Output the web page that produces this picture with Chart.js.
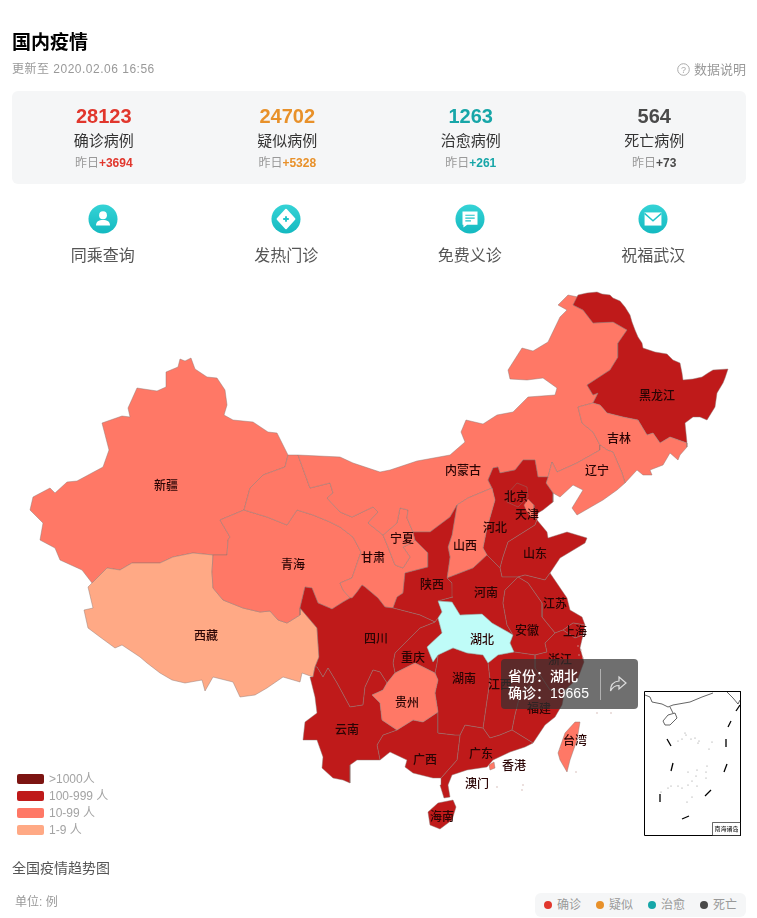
<!DOCTYPE html>
<html lang="zh">
<head>
<meta charset="utf-8">
<title>国内疫情</title>
<script src="https://cdn.jsdelivr.net/npm/chart.js@4"></script>
<style>
html, body { margin: 0; padding: 0; background: #fff; }
body { position: relative; width: 757px; height: 918px; overflow: hidden; font-family: "Liberation Sans", "Noto Sans CJK SC", sans-serif; }
#map { position: absolute; left: 0; top: 0; }
.abs { position: absolute; white-space: nowrap; }
#card { position: absolute; left: 12px; top: 91px; width: 734px; height: 93px; background: #f5f6f7; border-radius: 6px; }
.stat, .link { position: absolute; width: 183.5px; text-align: center; }
.stat { top: 0; }
.stat b { display: block; font-size: 20px; line-height: 24px; margin-top: 13px; }
.stat span { display: block; font-size: 15px; line-height: 20px; color: #333; margin-top: 3px; }
.stat i { display: block; font-style: normal; font-size: 12px; line-height: 16px; color: #999; margin-top: 4px; }
.stat i em { font-style: normal; font-weight: bold; }
.link { top: 204px; color: #555; font-size: 16px; line-height: 22px; }
.link svg { display: block; margin: 0 auto 11px; }
.band { position: absolute; left: 17px; width: 27px; height: 10px; border-radius: 2px; }
.bandText { position: absolute; left: 49px; font-size: 12px; line-height: 14px; color: #a3a3a3; white-space: nowrap; }
#tip { position: absolute; left: 501px; top: 659px; width: 137px; height: 50px; background: rgba(50,50,50,.7); border-radius: 4px; color: #fff; font-size: 14px; line-height: 17px; font-weight: 500; }
#tip div { position: absolute; left: 7px; white-space: nowrap; }
#tip u { position: absolute; left: 99px; top: 10px; width: 1px; height: 31px; background: rgba(255,255,255,.45); }
#tip svg { position: absolute; left: 108px; top: 16px; }
#pill { position: absolute; left: 535px; top: 893px; width: 211px; height: 24px; background: #f5f6f7; border-radius: 6px; }
#pill s { position: absolute; top: 8px; width: 8px; height: 8px; border-radius: 50%; }
#pill span { position: absolute; top: 4px; font-size: 12px; line-height: 16px; color: #999; }
</style>
</head>
<body>
<canvas id="map" width="757" height="918"></canvas>

<div class="abs" style="left:12px;top:30px;font-size:19px;line-height:25px;font-weight:bold;color:#000">国内疫情</div>
<div class="abs" style="left:12px;top:61px;font-size:12px;line-height:16px;color:#999;letter-spacing:.5px">更新至 2020.02.06 16:56</div>
<svg class="abs" style="left:677px;top:63px" width="13" height="13"><circle cx="6.5" cy="6.5" r="5.8" fill="none" stroke="#aaa"/><text x="6.5" y="10" text-anchor="middle" font-size="9" fill="#aaa">?</text></svg>
<div class="abs" style="left:694px;top:61px;font-size:13px;line-height:17px;color:#999">数据说明</div>
<div id="card"></div>
<div id="links"></div>
<div id="bands"></div>
<div class="abs" style="left:12px;top:859px;font-size:14px;line-height:18px;color:#555">全国疫情趋势图</div>
<div class="abs" style="left:15px;top:894px;font-size:12px;line-height:16px;color:#999">单位: 例</div>
<div id="pill"></div>
<div id="tip"></div>

<script>
// numeros de la cabecera
const statNames = ['确诊病例', '疑似病例', '治愈病例', '死亡病例'];
const statValues = [28123, 24702, 1263, 564];
const statDeltas = [3694, 5328, 261, 73];
const statColors = ['#e1372d', '#e8912a', '#17a6a8', '#4a4a4a'];
const linkNames = ['同乘查询', '发热门诊', '免费义诊', '祝福武汉'];

const bandNames = ['>1000人', '100-999 人', '10-99 人', '1-9 人'];
const bandColors = ['#7c1411', '#bf1a1a', '#ff7866', '#ffa985'];
const hoverColor = '#bffcf8';
const trendNames = ['确诊', '疑似', '治愈', '死亡'];

// contornos de cada provincia, en unidades del mapa
const xinjiang = [[180,359],[185,361],[191,358],[195,369],[207,377],[217,378],[225,390],[227,405],[224,415],[233,420],[253,422],[268,432],[277,433],[288,455],[285,467],[263,475],[250,488],[244,510],[220,520],[230,537],[228,540],[227,555],[213,555],[193,553],[173,557],[160,563],[132,563],[120,570],[107,568],[92,583],[82,570],[60,560],[55,548],[40,540],[43,523],[30,510],[33,497],[50,488],[55,493],[67,482],[77,481],[103,467],[109,450],[102,423],[122,416],[130,417],[128,408],[137,388],[157,391],[166,387],[166,372],[178,367]];
const xizang = [[92,583],[107,568],[120,570],[132,563],[160,563],[173,557],[193,553],[213,555],[212,572],[213,588],[223,600],[243,608],[260,612],[270,611],[278,620],[287,623],[300,615],[300,608],[317,628],[319,657],[315,667],[313,677],[302,673],[300,682],[283,677],[267,688],[255,695],[240,697],[233,682],[213,677],[205,691],[202,680],[185,683],[172,680],[160,673],[147,663],[140,657],[122,645],[115,648],[100,637],[88,628],[84,610],[93,608],[88,587]];
const qinghai = [[220,520],[244,510],[267,517],[287,525],[297,510],[313,515],[330,522],[340,527],[353,537],[361,552],[352,578],[340,583],[343,590],[350,598],[343,602],[332,609],[318,603],[312,588],[305,587],[300,608],[300,615],[287,623],[278,620],[270,611],[260,612],[243,608],[223,600],[213,588],[212,572],[213,555],[227,555],[228,540],[230,537]];
const gansu = [[288,455],[298,455],[310,488],[330,483],[333,493],[327,498],[340,512],[352,517],[373,507],[378,512],[368,523],[383,535],[388,547],[395,565],[403,568],[410,557],[403,547],[412,543],[415,540],[428,553],[428,567],[405,573],[403,593],[397,597],[393,608],[385,607],[378,598],[365,587],[362,585],[357,592],[352,598],[350,598],[343,590],[340,583],[352,578],[361,552],[353,537],[340,527],[330,522],[313,515],[297,510],[287,525],[267,517],[244,510],[250,488],[263,475],[285,467]];
const ningxia = [[400,508],[408,510],[407,518],[413,532],[415,540],[412,543],[403,547],[410,557],[403,568],[395,565],[388,547],[383,535],[397,523]];
const neimenggu = [[298,455],[340,457],[353,463],[380,472],[390,470],[417,461],[450,455],[465,442],[461,432],[466,420],[483,424],[497,415],[513,412],[528,397],[555,395],[557,388],[543,378],[527,380],[510,379],[508,370],[522,348],[533,351],[548,342],[560,317],[567,310],[558,305],[568,295],[578,297],[573,305],[583,310],[593,323],[613,322],[627,330],[618,343],[618,357],[610,370],[587,385],[593,395],[598,393],[593,403],[578,407],[582,423],[593,432],[600,445],[600,450],[577,463],[557,472],[552,462],[548,477],[538,477],[535,460],[523,460],[515,470],[500,473],[498,467],[493,468],[488,480],[492,488],[468,498],[457,505],[450,517],[430,532],[413,532],[407,518],[408,510],[400,508],[397,523],[383,535],[368,523],[378,512],[373,507],[352,517],[340,512],[327,498],[333,493],[330,483],[310,488]];
const heilongjiang = [[578,295],[587,293],[597,292],[602,294],[610,295],[613,298],[620,301],[625,307],[630,315],[632,322],[635,330],[638,337],[642,343],[643,348],[655,352],[667,354],[673,360],[680,363],[682,373],[683,380],[693,379],[702,377],[708,373],[713,370],[728,369],[725,378],[723,383],[717,393],[715,407],[707,420],[700,417],[693,417],[685,423],[687,443],[670,437],[660,443],[653,433],[647,435],[638,420],[623,417],[607,413],[600,405],[593,403],[598,393],[593,395],[587,385],[610,370],[618,357],[618,343],[627,330],[613,322],[593,323],[583,310],[573,305]];
const jilin = [[593,403],[600,405],[607,413],[623,417],[638,420],[647,435],[653,433],[660,443],[670,437],[687,443],[687,447],[680,455],[678,460],[670,453],[663,465],[650,470],[652,475],[643,475],[637,470],[625,483],[622,473],[613,452],[607,450],[600,445],[593,432],[582,423],[578,407]];
const liaoning = [[600,450],[600,445],[607,450],[613,452],[622,473],[625,483],[617,490],[603,500],[577,515],[572,508],[583,490],[573,485],[560,497],[553,493],[546,483],[548,477],[552,462],[557,472],[577,463]];
const hebei = [[488,480],[493,468],[498,467],[500,473],[515,470],[523,460],[535,460],[538,477],[548,477],[546,483],[553,493],[553,502],[543,510],[538,513],[537,520],[535,525],[508,542],[503,557],[500,568],[487,555],[483,548],[487,528],[495,500],[492,488]];
const beijing = [[517,483],[527,487],[528,497],[518,507],[507,502],[508,493]];
const tianjin = [[528,499],[534,505],[534,513],[537,519],[530,516],[526,510],[524,505]];
const shandong = [[535,525],[537,520],[547,532],[548,538],[567,532],[587,538],[585,543],[560,558],[550,573],[545,580],[525,575],[518,577],[502,577],[500,568],[503,557],[508,542]];
const shanxi = [[457,505],[468,498],[492,488],[495,500],[487,528],[483,548],[487,555],[473,568],[447,578],[450,557],[448,547],[452,535]];
const shaanxi = [[457,505],[452,535],[448,547],[450,557],[447,578],[452,583],[453,597],[438,601],[442,612],[438,618],[435,622],[420,615],[393,608],[397,597],[403,593],[405,573],[428,567],[428,553],[415,540],[413,532],[430,532],[450,517]];
const henan = [[447,578],[473,568],[487,555],[500,568],[502,577],[518,577],[505,590],[503,603],[507,625],[513,635],[508,632],[492,623],[482,614],[460,615],[452,602],[438,601],[453,597],[452,583]];
const jiangsu = [[518,577],[525,575],[545,580],[550,573],[567,598],[570,610],[582,617],[585,625],[573,623],[563,630],[555,633],[542,617],[542,603],[528,583]];
const anhui = [[518,577],[528,583],[542,603],[542,617],[555,633],[545,643],[547,652],[535,655],[514,652],[510,643],[513,635],[507,625],[503,603],[505,590]];
const shanghai = [[573,623],[585,625],[583,635],[575,638],[563,630]];
const zhejiang = [[555,633],[563,630],[575,638],[583,635],[580,648],[584,662],[578,678],[565,690],[550,690],[540,675],[535,668],[535,655],[547,652],[545,643]];
const jiangxi = [[488,663],[498,655],[514,652],[535,655],[535,668],[540,675],[530,685],[520,695],[515,715],[512,730],[500,735],[490,738],[483,728],[487,700],[490,680]];
const fujian = [[540,675],[550,690],[565,690],[562,705],[555,717],[545,725],[533,743],[512,730],[515,715],[520,695],[530,685]];
const guangdong = [[460,735],[465,725],[483,728],[490,738],[500,735],[512,730],[533,743],[525,747],[510,752],[493,760],[487,767],[467,770],[452,775],[448,785],[450,797],[444,798],[440,785],[441,778],[457,760]];
const guangxi = [[397,730],[413,720],[423,722],[438,712],[438,733],[455,735],[460,735],[457,760],[441,778],[433,778],[413,773],[405,767],[407,760],[390,752],[380,760],[377,745],[383,735]];
const hunan = [[438,655],[453,648],[467,653],[483,655],[488,663],[490,680],[487,700],[483,728],[465,725],[460,735],[455,735],[438,733],[438,712],[435,693],[438,680],[435,673],[437,663]];
const chongqing = [[435,622],[438,618],[442,633],[427,647],[433,662],[438,655],[437,663],[435,673],[425,668],[415,663],[395,673],[393,663],[395,653],[420,628]];
const sichuan = [[300,608],[305,587],[312,588],[318,603],[332,609],[343,602],[350,598],[352,598],[357,592],[362,585],[365,587],[378,598],[385,607],[393,608],[420,615],[435,622],[420,628],[395,653],[393,663],[395,673],[387,683],[380,672],[373,670],[365,687],[363,705],[350,707],[337,683],[328,668],[323,677],[317,667],[315,667],[319,657],[317,628]];
const yunnan = [[315,667],[317,667],[323,677],[328,668],[337,683],[350,707],[363,705],[365,687],[373,670],[380,672],[387,683],[383,690],[372,695],[380,703],[382,720],[397,730],[383,735],[377,745],[380,760],[357,760],[350,765],[350,783],[343,780],[333,778],[322,768],[323,757],[317,740],[303,740],[305,722],[317,713],[315,697],[310,677],[313,677]];
const guizhou = [[395,673],[415,663],[425,668],[435,673],[438,680],[435,693],[438,712],[423,722],[413,720],[397,730],[382,720],[380,703],[372,695],[383,690],[387,683]];
const hainan = [[428,812],[438,803],[453,800],[456,807],[452,820],[440,829],[430,825]];
const taiwan = [[575,722],[580,722],[577,740],[570,760],[567,772],[560,760],[558,753],[565,733]];
const xianggang = [[489,765],[494,762],[495,768],[490,770]];
const hubei = [[438,601],[452,602],[460,615],[482,614],[492,623],[508,632],[513,635],[510,643],[514,652],[498,655],[488,663],[483,655],[467,653],[453,648],[438,655],[433,662],[427,647],[442,633],[438,618],[442,612]];

const provinceNames = ['新疆','西藏','青海','甘肃','宁夏','内蒙古','黑龙江','吉林','辽宁','河北','北京','天津','山东','山西','陕西','河南','江苏','安徽','上海','浙江','江西','福建','广东','广西','湖南','重庆','四川','云南','贵州','海南','台湾','香港','湖北'];
const provinceShapes = [xinjiang,xizang,qinghai,gansu,ningxia,neimenggu,heilongjiang,jilin,liaoning,hebei,beijing,tianjin,shandong,shanxi,shaanxi,henan,jiangsu,anhui,shanghai,zhejiang,jiangxi,fujian,guangdong,guangxi,hunan,chongqing,sichuan,yunnan,guizhou,hainan,taiwan,xianggang,hubei];
// indice en bandNames de cada provincia, -1 = resaltada
const provinceBands = [2,3,2,2,2,2,1,2,2,1,1,2,1,2,1,1,1,1,1,1,1,1,1,1,1,1,1,1,2,1,2,2,-1];
const labelX = [166,206,293,373,402,463,657,619,597,495,516,527,535,465,432,486,555,527,575,560,500,539,481,425,464,413,376,347,407,442,575,514,482];
const labelY = [485,635,564,557,538,470,395,438,470,527,496,514,553,545,584,592,603,630,631,659,684,708,753,759,678,657,638,729,702,816,740,765,639];
const extraLabel = '澳门';
const extraLabelAt = [477,783];
const smallIslands = [[560,749],[578,646],[581,650],[579,655],[583,658],[597,713],[611,713],[576,772],[523,785],[522,790],[497,787]];

const tipProvince = '湖北';
const tipConfirmed = 19665;

// recuadro del mar de China meridional
const insetBox = [[644.5,691.5],[740.5,691.5],[740.5,835.5],[644.5,835.5]];
const insetTag = [[712.5,822.5],[740.5,822.5],[740.5,835.5],[712.5,835.5]];
const insetCoast = [[645,695],[650,697],[652,702],[662,704],[668,707],[673,705],[690,702],[702,697],[713,693]];
const insetLeizhou = [[670,707],[673,713]];
const insetHainan = [[668,715],[675,713],[677,718],[670,725],[665,725],[663,721]];
const insetTaiwan = [[727,692],[733,698],[738,704],[740,700]];
const insetDashes = [
	[[740,705],[736,711]], [[731,721],[728,727]], [[726,739],[726,747]],
	[[727,764],[724,772]], [[711,790],[705,796]], [[689,816],[682,819]],
	[[660,794],[660,802]], [[673,763],[671,771]], [[667,739],[671,746]]
];
const insetDots = [[686,735],[682,739],[678,741],[695,738],[699,741],[698,743],[712,742],[707,766],[697,770],[688,772],[696,776],[692,781],[706,778],[697,786],[688,785],[678,786],[668,788],[661,792],[682,788],[692,797],[687,802],[671,786],[706,772],[685,733],[691,739],[709,749]];
const insetLabel = '南海诸岛';

// parte de HTML
const card = document.getElementById('card');
statNames.forEach(function (name, i) {
	const el = document.createElement('div');
	el.className = 'stat';
	el.style.left = (i * 183.5) + 'px';
	el.innerHTML = '<b style="color:' + statColors[i] + '">' + statValues[i] + '</b><span>' + name + '</span>' +
		'<i>昨日<em style="color:' + statColors[i] + '">+' + statDeltas[i] + '</em></i>';
	card.appendChild(el);
});

const linkIcons = [
	'<circle cx="16" cy="12" r="4.2" fill="#fff"/><path d="M8.5 23c0-4.5 3-6 7.5-6s7.5 1.500 7.500 6z" fill="#fff"/>',
	'<path d="M16 6l9 10-9 10-9-10z" fill="#fff" stroke="#fff" stroke-width="2" stroke-linejoin="round"/><path d="M16 13v6M13 16h6" stroke="#1fc4c9" stroke-width="2"/>',
	'<path d="M8 8h16v14H13l-4 3v-3H8z" fill="#fff"/><path d="M11 12h10M11 15h10M11 18h6" stroke="#1fc4c9" stroke-width="1.300"/>',
	'<path d="M7 9h18v14H7z" fill="#fff"/><path d="M7 10l9 8 9-8" fill="none" stroke="#1fc4c9" stroke-width="1.500"/>'
];
const links = document.getElementById('links');
linkNames.forEach(function (name, i) {
	const el = document.createElement('div');
	el.className = 'link';
	el.style.left = (11 + i * 183.5) + 'px';
	el.innerHTML = '<svg width="30" height="30" viewBox="0 0 32 32"><defs><linearGradient id="g' + i + '" x1="0" y1="0" x2="0" y2="1">' +
		'<stop offset="0" stop-color="#35d3d6"/><stop offset="1" stop-color="#14b9c0"/></linearGradient></defs>' +
		'<circle cx="16" cy="16" r="15.500" fill="url(#g' + i + ')"/>' + linkIcons[i] + '</svg>' + name;
	links.appendChild(el);
});

const bands = document.getElementById('bands');
bandNames.forEach(function (name, i) {
	bands.innerHTML += '<div class="band" style="top:' + (774 + i * 17) + 'px;background:' + bandColors[i] + '"></div>' +
		'<div class="bandText" style="top:' + (772 + i * 17) + 'px">' + name + '</div>';
});

const pill = document.getElementById('pill');
trendNames.forEach(function (name, i) {
	pill.innerHTML += '<s style="left:' + (9 + i * 52) + 'px;background:' + statColors[i] + '"></s>' +
		'<span style="left:' + (22 + i * 52) + 'px">' + name + '</span>';
});

document.getElementById('tip').innerHTML = '<div style="top:9px">省份：' + tipProvince + '</div>' +
	'<div style="top:26px">确诊：' + tipConfirmed + '</div><u></u>' +
	'<svg width="18" height="18" viewBox="0 0 18 18"><path d="M10 2l7 6-7 6v-3.500C6 10.500 3.500 12 1.500 16c0-6 3-9.500 8.500-10z" fill="none" stroke="#ddd" stroke-width="1.200"/></svg>';

// capas del mapa
function shapeSet(points, fillColor, lineColor, lineWidth) {
	return {
		data: points,
		showLine: true,
		fill: fillColor ? 'shape' : false,
		backgroundColor: fillColor || 'transparent',
		borderColor: lineColor,
		borderWidth: lineWidth,
		pointRadius: 0,
		tension: 0
	};
}
function closed(points) {
	return points.concat([points[0]]);
}

const layers = [];
provinceShapes.forEach(function (shape, i) {
	const band = provinceBands[i];
	layers.push(shapeSet(closed(shape), band < 0 ? hoverColor : bandColors[band], 'rgba(140,118,114,.75)', 0.6));
});
layers.push({ data: smallIslands, pointRadius: 0.7, pointBackgroundColor: '#c9a9a5', pointBorderWidth: 0 });
layers.push(shapeSet(closed(insetBox), '#fff', '#000', 1));
layers.push(shapeSet(closed(insetTag), '#fff', '#000', 0.6));
[insetCoast, insetLeizhou, closed(insetHainan), insetTaiwan].forEach(function (line) {
	layers.push(shapeSet(line, null, '#222', 0.7));
});
insetDashes.forEach(function (dash) {
	layers.push(shapeSet(dash, null, '#000', 1.3));
});
layers.push({ data: insetDots, pointRadius: 0.5, pointBackgroundColor: '#777', pointBorderWidth: 0 });

// los datasets se pintan del ultimo al primero, asi que se fija el orden
layers.forEach(function (set, i) {
	set.order = layers.length - i;
});

const mapLabels = {
	id: 'mapLabels',
	afterDatasetsDraw: function (chart) {
		const c = chart.ctx;
		const x = chart.scales.x;
		const y = chart.scales.y;
		c.save();
		c.textAlign = 'center';
		c.textBaseline = 'middle';
		c.fillStyle = '#2a0404';
		c.font = '500 12px "Noto Sans CJK SC"';
		provinceNames.forEach(function (name, i) {
			c.fillText(name, x.getPixelForValue(labelX[i]), y.getPixelForValue(labelY[i]));
		});
		c.fillText(extraLabel, x.getPixelForValue(extraLabelAt[0]), y.getPixelForValue(extraLabelAt[1]));
		c.font = '6px "Noto Sans CJK SC"';
		c.fillStyle = '#000';
		c.fillText(insetLabel, x.getPixelForValue(726.5), y.getPixelForValue(829));
		c.restore();
	}
};

new Chart(document.getElementById('map'), {
	type: 'scatter',
	data: { datasets: layers },
	plugins: [mapLabels],
	options: {
		responsive: false,
		animation: false,
		layout: { padding: 0, autoPadding: false },
		plugins: { legend: { display: false }, tooltip: { enabled: false } },
		elements: { line: { capBezierPoints: false } },
		scales: {
			x: { type: 'linear', min: 0, max: 757, display: false },
			y: { type: 'linear', min: 0, max: 918, reverse: true, display: false }
		}
	}
});
</script>
</body>
</html>
